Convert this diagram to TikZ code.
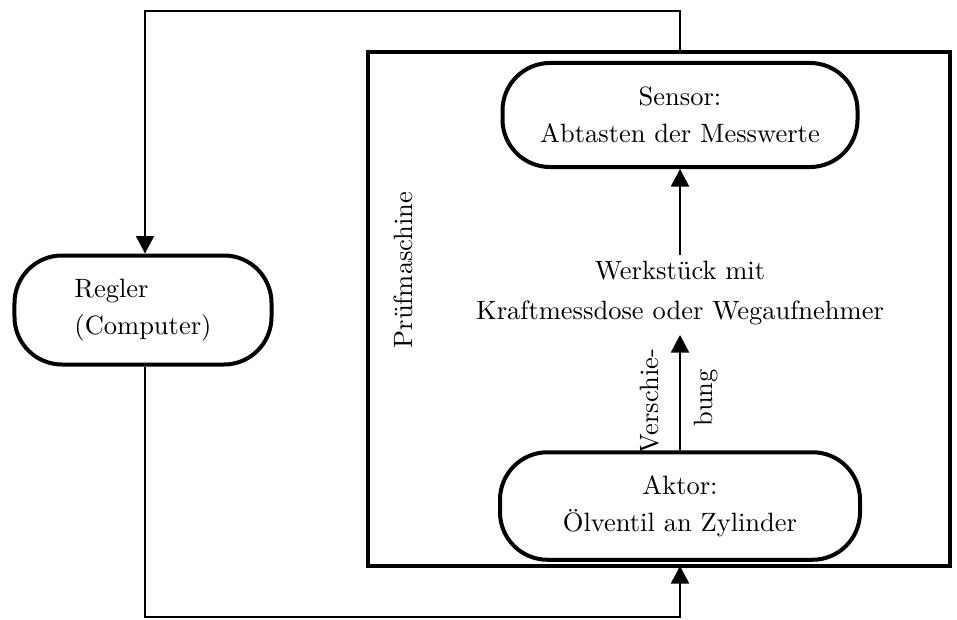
\documentclass[tikz,border=0pt]{standalone}
\usetikzlibrary{arrows.meta}
\begin{document}
\begin{tikzpicture}[x=0.4pt,y=-0.4pt,
  rbox/.style={draw, line width=1.6pt, rounded corners=19pt, inner sep=0pt},
  frame/.style={draw, line width=1.6pt, inner sep=0pt},
  arr/.style={line width=0.8pt, -{Triangle[width=7.2pt,length=7pt]}},
  txt/.style={align=center, font=\fontsize{10.6}{14.8}\selectfont}]
\useasboundingbox (0,0) rectangle (957,619);
% Pruefmaschine frame
\node[frame, minimum width=232.8pt, minimum height=205.6pt] (pm) at (659,309) {};
\node[rotate=90, txt] (pmlabel) at (403,270) {Prüfmaschine};
% nodes
\node[rbox, minimum width=102.8pt, minimum height=43.6pt, txt, align=left] (regler) at (143,310) {Regler\\(Computer)};
\node[rbox, minimum width=142pt, minimum height=41.6pt, txt] (sensor) at (680,115) {Sensor:\\Abtasten der Messwerte};
\node[rbox, minimum width=144pt, minimum height=43pt, txt] (aktor) at (680,506) {Aktor:\\Ölventil an Zylinder};
\node[txt, font=\fontsize{10.6}{16}\selectfont] (werk) at (680,293) {Werkstück mit\\Kraftmessdose oder Wegaufnehmer};
\node[txt, rotate=90] (versch1) at (650,401) {Verschie-};
\node[txt, rotate=90] (versch2) at (706,398) {bung};
% internal arrows
\coordinate (w1) at (680,255);
\draw[arr] (w1) -- (sensor.south);
\coordinate (w2) at (680,335);
\draw[arr] (aktor.north) -- (w2);
% feedback top
\coordinate (t0) at (680,52);
\coordinate (t1) at (680,11);
\coordinate (t2) at (145,11);
\draw[arr] (t0) -- (t1) -- (t2) -- (t2 |- regler.north);
% bottom
\coordinate (b1) at (145,617);
\coordinate (b2) at (680,617);
\coordinate (b3) at (680,566);
\draw[arr] (b1 |- regler.south) -- (b1) -- (b2) -- (b3);
\end{tikzpicture}
\end{document}
